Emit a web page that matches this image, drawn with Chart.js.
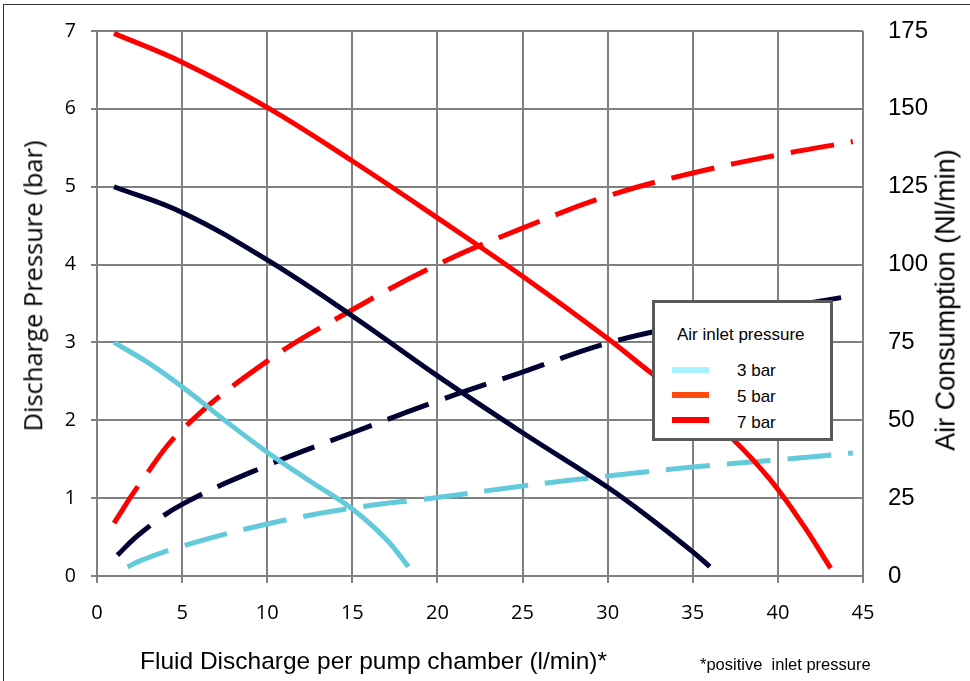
<!DOCTYPE html>
<html>
<head>
<meta charset="utf-8">
<script src="https://cdn.jsdelivr.net/npm/chart.js@4.4.0/dist/chart.umd.min.js"></script>
<style>
	body{margin:0;background:#fff;}
	#wrap{position:relative;width:970px;height:681px;overflow:hidden;background:#fff;font-family:"Liberation Sans",Arial,sans-serif;color:#000;}
	#frame{position:absolute;left:3px;top:4px;width:1000px;height:700px;border-left:1px solid #333;border-top:1px solid #333;}
	#chart{position:absolute;left:0;top:0;}
	.txt{position:absolute;white-space:nowrap;}
	.rot{transform:translate(-50%,-50%) rotate(-90deg);line-height:1;}
	#legendBox{position:absolute;left:652px;top:300px;width:175px;height:135px;border:3px solid #595959;background:#fff;}
	.swatch{position:absolute;width:37px;height:6px;}
</style>
</head>
<body>
<div id="wrap">
	<div id="frame"></div>
	<canvas id="chart" width="970" height="681"></canvas>
	<div class="txt rot" id="titleLeft" style="left:33px;top:286px;font-family:'Open Sans';font-size:25.5px;"></div>
	<div class="txt rot" id="titleRight" style="left:946px;top:300px;font-size:27px;"></div>
	<div class="txt" id="titleBottom" style="left:140px;top:649px;font-size:24.5px;line-height:24.5px;"></div>
	<div class="txt" id="footNote" style="left:700px;top:656px;font-size:16.5px;line-height:16.5px;"></div>
	<div id="legendBox"></div>
</div>
<script>
// Discharge pressure (bar) against fluid discharge (l/min), one curve per air inlet pressure
var flow3 = [1, 3, 5, 7.5, 10, 12.5, 15, 17, 18.3];
var press3 = [3.0, 2.74, 2.43, 2.0, 1.59, 1.22, 0.86, 0.47, 0.12];
var flow5 = [1, 5, 10, 15, 20, 25, 30, 33.1, 35, 36];
var press5 = [5.0, 4.67, 4.06, 3.34, 2.57, 1.84, 1.14, 0.64, 0.31, 0.12];
var flow7 = [1, 5, 10, 15, 20, 25, 30, 32.6, 35, 37.3, 39.5, 41.5, 43.1];
var press7 = [6.97, 6.6, 6.02, 5.33, 4.6, 3.85, 3.05, 2.6, 2.2, 1.77, 1.25, 0.65, 0.1];

// Air consumption (Nl/min), dashed curves
var airFlow3 = [1.8, 2.5, 5, 10, 15, 20, 25, 30, 35, 40, 44.4];
var air3 = [2.9, 4.8, 9.6, 16.7, 21.8, 25.2, 28.9, 32.1, 35, 37.3, 39.5];
var airFlow5 = [1.2, 2.5, 5, 10, 15, 20, 25, 30, 35, 40, 44.4];
var air5 = [6.7, 13.5, 23, 35.5, 46, 56.2, 65.5, 74.8, 81, 86, 90];
var airFlow7 = [1, 2.5, 5, 10, 15, 20, 25, 30, 35, 40, 44.4];
var air7 = [17, 29.5, 47, 69, 85.5, 100, 111.7, 122, 129.4, 135.2, 139.5];

var xTitle = 'Fluid Discharge per pump chamber (l/min)*';
var yTitle = 'Discharge Pressure (bar)';
var y2Title = 'Air Consumption (Nl/min)';
var noteText = '*positive\u00a0 inlet pressure';

var legendTitle = 'Air inlet pressure';
var legendLabels = ['3 bar', '5 bar', '7 bar'];
var legendColors = ['#a8f2ff', '#ff4a0a', '#ff0000'];

var cyan = '#62cadb';
var navy = '#000033';
var red = '#ff0000';
var dash = [44, 17];

function pts(xs, ys){
	return xs.map(function(x, i){ return {x: x, y: ys[i]}; });
}

function curve(xs, ys, color, axis, dashed){
	return {
		data: pts(xs, ys),
		borderColor: color,
		borderWidth: 5,
		borderDash: dashed ? dash : [],
		borderCapStyle: 'butt',
		pointRadius: 0,
		fill: false,
		tension: 0.4,
		yAxisID: axis
	};
}

document.getElementById('titleLeft').textContent = yTitle;
document.getElementById('titleRight').textContent = y2Title;
document.getElementById('titleBottom').textContent = xTitle;
document.getElementById('footNote').textContent = noteText;

// legend box
var wrap = document.getElementById('wrap');
var lt = document.createElement('div');
lt.className = 'txt';
lt.style.cssText = 'left:677px;top:326px;font-size:17px;line-height:17px;';
lt.textContent = legendTitle;
wrap.appendChild(lt);
for(var i = 0; i < legendLabels.length; i++){
	var sw = document.createElement('div');
	sw.className = 'swatch';
	sw.style.left = '672px';
	sw.style.top = (367 + i * 25) + 'px';
	sw.style.background = legendColors[i];
	wrap.appendChild(sw);
	var lb = document.createElement('div');
	lb.className = 'txt';
	lb.style.cssText = 'left:737px;font-size:17px;line-height:17px;';
	lb.style.top = (362 + i * 26) + 'px';
	lb.textContent = legendLabels[i];
	wrap.appendChild(lb);
}

var gridColor = '#808080';

// fixed axis boxes so the plot area sits where the original one does
function fitY(w){
	return function(s){
		s.width = w;
		s.paddingTop = 0;
		s.paddingBottom = 0;
	};
}

var config = {
	type: 'line',
	data: {
		datasets: [
			curve(flow7, press7, red, 'y', false),
			curve(flow5, press5, navy, 'y', false),
			curve(flow3, press3, cyan, 'y', false),
			curve(airFlow7, air7, red, 'y2', true),
			curve(airFlow5, air5, navy, 'y2', true),
			curve(airFlow3, air3, cyan, 'y2', true)
		]
	},
	options: {
		responsive: false,
		animation: false,
		devicePixelRatio: 1,
		layout: { padding: { top: 31, left: 0, right: 0, bottom: 0 } },
		plugins: {
			legend: { display: false },
			tooltip: { enabled: false }
		},
		scales: {
			x: {
				type: 'linear',
				min: 0,
				max: 45,
				ticks: { stepSize: 5, color: '#000', padding: 18, font: { family: 'Open Sans', size: 20 } },
				grid: { color: gridColor, lineWidth: 2, tickLength: 7 },
				border: { color: gridColor, width: 2 },
				afterFit: function(s){ s.height = 105; s.paddingLeft = 0; s.paddingRight = 0; }
			},
			y: {
				min: 0,
				max: 7,
				ticks: { stepSize: 1, color: '#000', padding: 15, font: { family: 'Open Sans', size: 19.5 } },
				grid: { color: gridColor, lineWidth: 2, tickLength: 6 },
				border: { color: gridColor, width: 2 },
				afterFit: fitY(97)
			},
			y2: {
				position: 'right',
				min: 0,
				max: 175,
				ticks: { stepSize: 25, color: '#000', padding: 25, font: { family: 'Liberation Sans', size: 24 } },
				grid: { display: false, drawTicks: false },
				border: { display: false },
				afterFit: fitY(107)
			}
		}
	}
};

var ctx = document.getElementById('chart').getContext('2d');
window.myChart = new Chart(ctx, config);
</script>
</body>
</html>
